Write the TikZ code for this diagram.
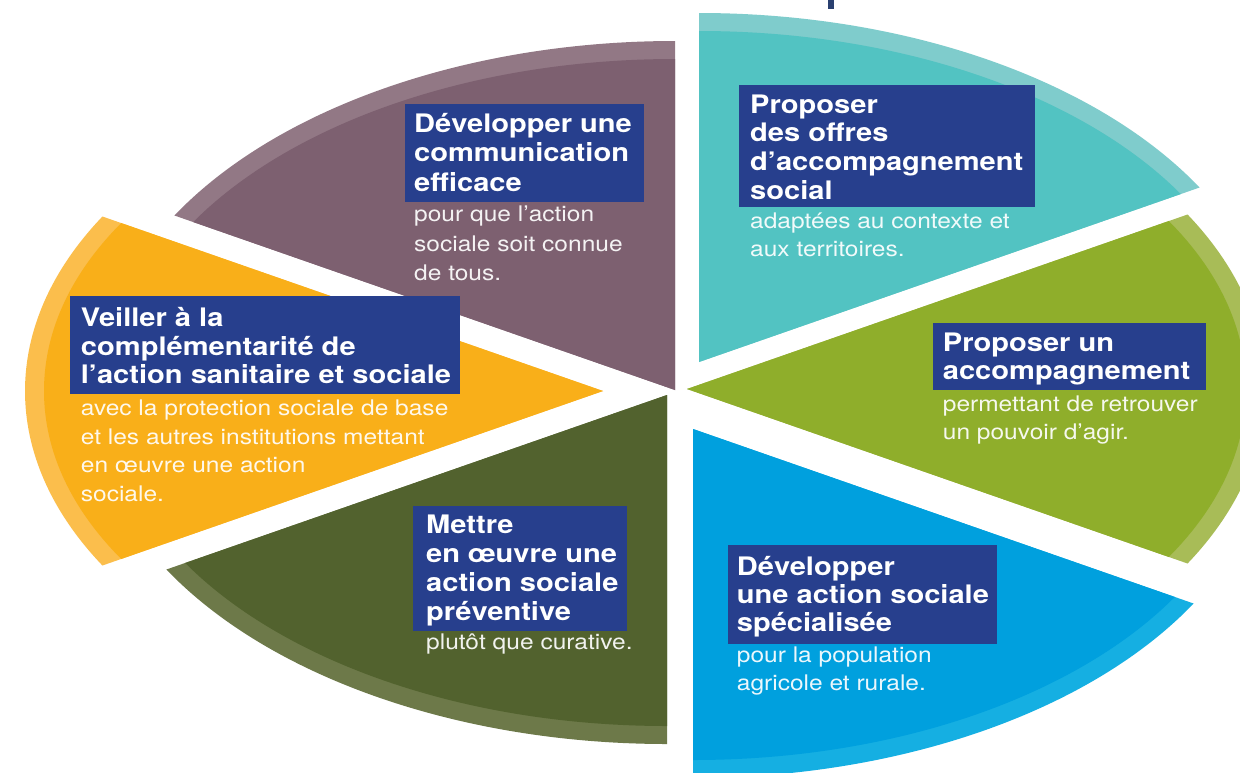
\documentclass[tikz,border=0pt]{standalone}
\usepackage{fontspec}
\setmainfont[FakeStretch=1.14]{TeX Gyre Heros}
\definecolor{navy}{HTML}{273F8D}
\definecolor{marknavy}{HTML}{2A4070}
\definecolor{purpledark}{HTML}{7D6070}
\definecolor{purplelight}{HTML}{927885}
\definecolor{tealdark}{HTML}{52C3C2}
\definecolor{teallight}{HTML}{7FCCCC}
\definecolor{greendark}{HTML}{8FAE2B}
\definecolor{greenlight}{HTML}{A8BC57}
\definecolor{bluedark}{HTML}{00A0DE}
\definecolor{bluelight}{HTML}{15AFE2}
\definecolor{olivedark}{HTML}{52622E}
\definecolor{olivelight}{HTML}{6D7949}
\definecolor{orangedark}{HTML}{F9AF19}
\definecolor{orangelight}{HTML}{FBBE4C}
\newcommand{\mysector}[5]{%
  \begin{scope}
    \clip (#1,#2) -- ++({578pt*cos(#3)},{349pt*sin(#3)})
      arc[start angle=#3, end angle=#4, x radius=578pt, y radius=349pt] -- cycle;
    \fill[#5light] (#1,#2) ellipse[x radius=582pt, y radius=353pt];
    \fill[#5dark] (#1,#2) ellipse[x radius=559pt, y radius=331pt];
  \end{scope}}
\tikzset{
  titletext/.style={font=\bfseries\fontsize{25.5}{28}\selectfont, text=white, inner sep=0pt, anchor=base west},
  bodytext/.style={font=\fontsize{21.5}{28}\selectfont, text=white, text opacity=0.92, inner sep=0pt, anchor=base west},
  labelbox/.style={fill=navy, draw=none, inner sep=0pt, outer sep=0pt, anchor=north west},
}
\begin{document}
\begin{tikzpicture}[x=1pt,y=-1pt]
\useasboundingbox (0,0) rectangle (1240,772);
\fill[white] (0,0) rectangle (1240,772);
\clip (0,0) rectangle (1240,772);

% sectors
\mysector{675}{390}{90}{150}{purple}
\mysector{699}{362}{30}{90}{teal}
\mysector{687}{389}{-30}{30}{green}
\mysector{693}{429}{-90}{-30}{blue}
\mysector{667}{395}{210}{270}{olive}
\mysector{603}{391}{150}{210}{orange}

% fragment of title at top
\fill[marknavy] (828,0) rectangle (834,9);

% purple block
\node[labelbox, minimum width=239pt, minimum height=98pt] (boxA) at (405,104) {};
\node[titletext] (a1) at (414,132.3) {Développer une};
\node[titletext] (a2) at (414,161.7) {communication};
\node[titletext] (a3) at (414,191.2) {efficace};
\node[bodytext] (a4) at (414,221.7) {pour que l’action};
\node[bodytext] (a5) at (414,251) {sociale soit connue};
\node[bodytext] (a6) at (414,280) {de tous.};

% teal block
\node[labelbox, minimum width=296pt, minimum height=122pt] (boxB) at (739,85) {};
\node[titletext] (b1) at (750,113.3) {Proposer};
\node[titletext] (b2) at (750,141.7) {des offres};
\node[titletext] (b3) at (750,170.7) {d’accompagnement};
\node[titletext] (b4) at (750,199.3) {social};
\node[bodytext] (b5) at (750,228.3) {adaptées au contexte et};
\node[bodytext] (b6) at (750,256.7) {aux territoires.};

% green block
\node[labelbox, minimum width=273pt, minimum height=67pt] (boxC) at (932.7,323.3) {};
\node[titletext] (c1) at (942.7,351) {Proposer un};
\node[titletext] (c2) at (942.7,379) {accompagnement};
\node[bodytext] (c3) at (942.7,411) {permettant de retrouver};
\node[bodytext] (c4) at (942.7,439) {un pouvoir d’agir.};

% blue block
\node[labelbox, minimum width=268.4pt, minimum height=99.3pt] (boxD) at (728.3,545) {};
\node[titletext] (d1) at (736.7,575) {Développer};
\node[titletext] (d2) at (736.7,603.3) {une action sociale};
\node[titletext] (d3) at (736.7,631.7) {spécialisée};
\node[bodytext] (d4) at (736.7,662.7) {pour la population};
\node[bodytext] (d5) at (736.7,690) {agricole et rurale.};

% olive block
\node[labelbox, minimum width=214pt, minimum height=124.7pt] (boxE) at (413,506) {};
\node[titletext] (e1) at (426,533.3) {Mettre};
\node[titletext] (e2) at (426,562.3) {en œuvre une};
\node[titletext] (e3) at (426,591) {action sociale};
\node[titletext] (e4) at (426,620) {préventive};
\node[bodytext] (e5) at (426,649.3) {plutôt que curative.};

% orange block
\node[labelbox, minimum width=390pt, minimum height=98pt] (boxF) at (70,296) {};
\node[titletext] (f1) at (80.7,326) {Veiller à la};
\node[titletext] (f2) at (80.7,355) {complémentarité de};
\node[titletext] (f3) at (80.7,383.3) {l’action sanitaire et sociale};
\node[bodytext] (f4) at (80.7,415) {avec la protection sociale de base};
\node[bodytext] (f5) at (80.7,444) {et les autres institutions mettant};
\node[bodytext] (f6) at (80.7,472.7) {en œuvre une action};
\node[bodytext] (f7) at (80.7,501.7) {sociale.};
\end{tikzpicture}
\end{document}
